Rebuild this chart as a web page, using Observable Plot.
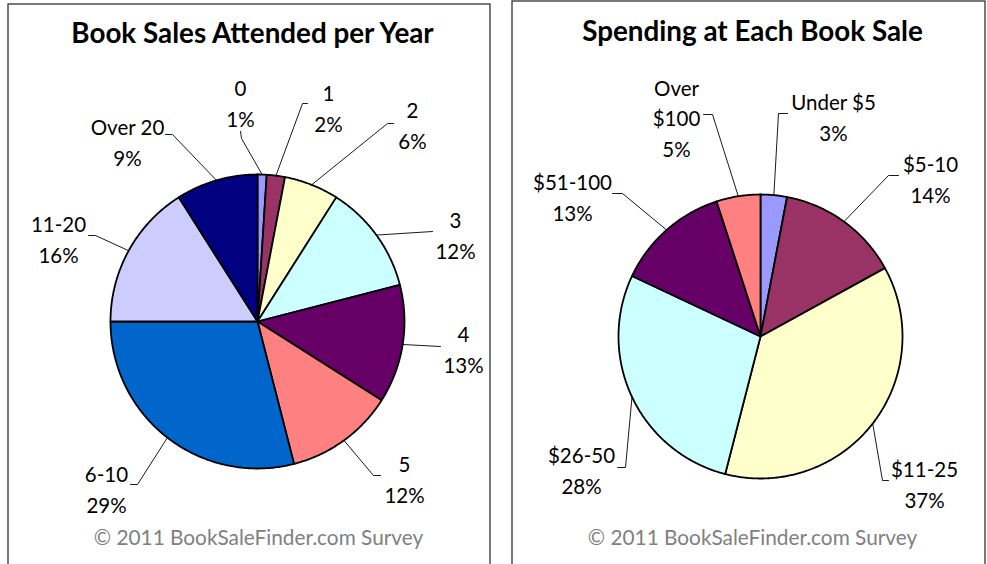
<!DOCTYPE html>
<html><head><meta charset="utf-8">
<script src="https://cdn.jsdelivr.net/npm/d3@7"></script>
<script src="https://cdn.jsdelivr.net/npm/@observablehq/plot@0.6"></script>
<style>html,body{margin:0;padding:0;background:#fff;overflow:hidden}</style>
</head><body><div id="chart"></div>
<script>
// ---- data ----
const attendTitle = "Book Sales Attended per Year";
const attendCategories = ["0", "1", "2", "3", "4", "5", "6-10", "11-20", "Over 20"];
const attendValues = [1, 2, 6, 12, 13, 12, 29, 16, 9];
const attendLabels = ["0\n1%", "1\n2%", "2\n6%", "3\n12%", "4\n13%", "5\n12%", "6-10\n29%", "11-20\n16%", "Over 20\n9%"];

const spendTitle = "Spending at Each Book Sale";
const spendCategories = ["Under $5", "$5-10", "$11-25", "$26-50", "$51-100", "Over $100"];
const spendValues = [3, 14, 37, 28, 13, 5];
const spendLabels = ["Under $5\n3%", "$5-10\n14%", "$11-25\n37%", "$26-50\n28%", "$51-100\n13%", "Over\n$100\n5%"];

const footerText = "© 2011 BookSaleFinder.com Survey";

// ---- styles / layout ----
const attendColors = ["#9999FF", "#993366", "#FFFFCC", "#CCFFFF", "#660066", "#FF8080", "#0066CC", "#CCCCFF", "#000080"];
const spendColors = ["#9999FF", "#993366", "#FFFFCC", "#CCFFFF", "#660066", "#FF8080"];
const W = 987, H = 564;
const FONT = "Lato, 'Open Sans', sans-serif";

const panels = [
  {
    title: attendTitle, cats: attendCategories, vals: attendValues, texts: attendLabels, colors: attendColors,
    cx: 257, cy: 321, r: 147, box: [8, 4, 490, 580], titleX: 252, titleY: 34, footX: 258, footY: 538,
    // label block centre and leader bend points (from pie edge outward)
    labelPos: [
      [240, 101, [[241, 138], [240, 131]]],
      [328, 106, [[302, 103], [307, 103]]],
      [412, 123, [[387, 123], [393, 123]]],
      [455, 233, [[432, 231]]],
      [463, 347, [[440, 346]]],
      [404, 477, [[373, 475], [380, 475]]],
      [106, 487, [[137, 484], [130, 484]]],
      [58, 237, [[95, 235], [88, 235]]],
      [127, 140, [[172, 134], [165, 134]]]
    ]
  },
  {
    title: spendTitle, cats: spendCategories, vals: spendValues, texts: spendLabels, colors: spendColors,
    cx: 760, cy: 336, r: 142, box: [512, 1, 985, 580], titleX: 752, titleY: 32, footX: 752, footY: 538,
    labelPos: [
      [833, 115, [[778, 113], [787, 113]]],
      [930, 177, [[888, 175], [898, 175]]],
      [924, 482, [[882, 480], [888, 480]]],
      [581, 468, [[625, 467], [617, 467]]],
      [572, 195, [[622, 193], [612, 193]]],
      [676, 116, [[712, 114], [703, 114]]]
    ]
  }
];

const marks = [];
const boxes = panels.map(p => ({x1: p.box[0], y1: p.box[1], x2: p.box[2], y2: p.box[3]}));
marks.push(Plot.rect(boxes, {x1: "x1", x2: "x2", y1: "y1", y2: "y2", fill: "white", stroke: "#222", strokeWidth: 1.2}));

for (const p of panels) {
  const arcs = d3.pie().sort(null).value(d => d)(p.vals);
  const pt = (a, rr) => ({x: p.cx + rr * Math.sin(a), y: p.cy - rr * Math.cos(a)});
  arcs.forEach((a, i) => {
    const pts = [pt(0, 0)];
    const n = Math.max(2, Math.ceil((a.endAngle - a.startAngle) / 0.01));
    for (let k = 0; k <= n; k++) pts.push(pt(a.startAngle + (a.endAngle - a.startAngle) * k / n, p.r));
    pts.push(pt(0, 0));
    marks.push(Plot.line(pts, {x: "x", y: "y", fill: p.colors[i], stroke: "black", strokeWidth: 1.8, strokeLinejoin: "round"}));
    // leader line from slice edge mid-angle to label
    const mid = (a.startAngle + a.endAngle) / 2;
    const lp = p.labelPos[i];
    const lead = [pt(mid, p.r), ...lp[2].map(([x, y]) => ({x, y}))];
    marks.push(Plot.line(lead, {x: "x", y: "y", stroke: "black", strokeWidth: 0.9}));
  });
  const labelRows = p.texts.map((t, i) => ({x: p.labelPos[i][0], y: p.labelPos[i][1], t}));
  marks.push(Plot.text(labelRows, {x: "x", y: "y", text: "t", fontSize: 20.5, lineHeight: 1.5, fill: "black", fontFamily: FONT}));
  marks.push(Plot.text([p.title], {x: () => p.titleX, y: () => p.titleY, text: d => d, fontSize: 27.8, fontWeight: "bold", fill: "black", fontFamily: FONT}));
  marks.push(Plot.text([footerText], {x: () => p.footX, y: () => p.footY, text: d => d, fontSize: 20.8, fill: "#808080", fontFamily: FONT}));
}

const chart = Plot.plot({
  width: W, height: H,
  margin: 0,
  x: {domain: [0, W], range: [0, W], axis: null},
  y: {domain: [0, H], range: [0, H], axis: null},
  style: {background: "white", overflow: "hidden"},
  marks
});
document.getElementById("chart").appendChild(chart);
</script>
</body></html>
